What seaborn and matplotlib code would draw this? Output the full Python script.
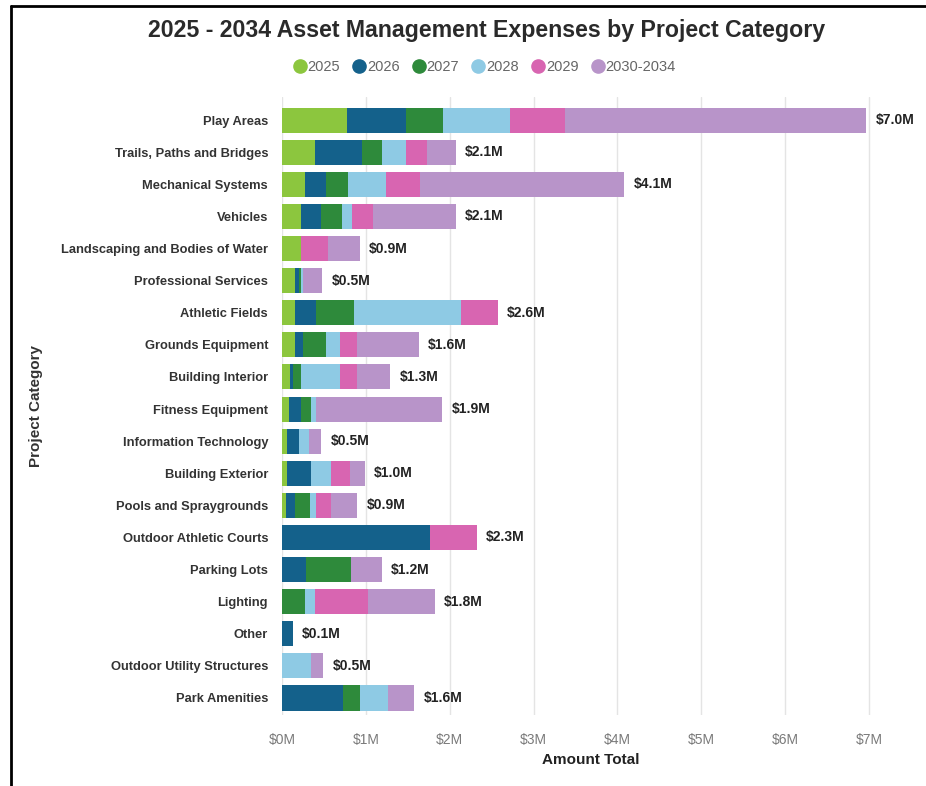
import matplotlib
matplotlib.use("Agg")
import matplotlib.pyplot as plt
from matplotlib.lines import Line2D
import numpy as np
import pandas as pd
import seaborn as sns

categories = [
    "Play Areas", "Trails, Paths and Bridges", "Mechanical Systems", "Vehicles",
    "Landscaping and Bodies of Water", "Professional Services", "Athletic Fields",
    "Grounds Equipment", "Building Interior", "Fitness Equipment",
    "Information Technology", "Building Exterior", "Pools and Spraygrounds",
    "Outdoor Athletic Courts", "Parking Lots", "Lighting", "Other",
    "Outdoor Utility Structures", "Park Amenities",
]

# Spending per category, $M
y2025 = [0.78, 0.39, 0.27, 0.23, 0.23, 0.16, 0.16, 0.15, 0.09, 0.08, 0.06, 0.06, 0.05, 0.00, 0.00, 0.00, 0.00, 0.00, 0.00]
y2026 = [0.70, 0.56, 0.26, 0.24, 0.00, 0.04, 0.24, 0.10, 0.04, 0.15, 0.14, 0.29, 0.10, 1.76, 0.29, 0.00, 0.13, 0.00, 0.73]
y2027 = [0.44, 0.24, 0.26, 0.25, 0.00, 0.03, 0.46, 0.27, 0.10, 0.12, 0.00, 0.00, 0.18, 0.00, 0.53, 0.27, 0.00, 0.00, 0.20]
y2028 = [0.80, 0.29, 0.45, 0.12, 0.00, 0.02, 1.28, 0.17, 0.46, 0.06, 0.12, 0.24, 0.08, 0.00, 0.00, 0.12, 0.00, 0.35, 0.34]
y2029 = [0.66, 0.25, 0.40, 0.25, 0.32, 0.00, 0.43, 0.21, 0.21, 0.00, 0.00, 0.22, 0.18, 0.56, 0.00, 0.64, 0.00, 0.00, 0.00]
y2030_2034 = [3.59, 0.34, 2.44, 0.98, 0.38, 0.23, 0.00, 0.73, 0.39, 1.50, 0.15, 0.18, 0.31, 0.00, 0.37, 0.79, 0.00, 0.14, 0.31]

series_names = ["2025", "2026", "2027", "2028", "2029", "2030-2034"]
series_colors = ["#8cc63e", "#14618b", "#2e8a3b", "#8ecae4", "#d865b1", "#b894c9"]
xtick_values = [0, 1, 2, 3, 4, 5, 6, 7]
xtick_labels = ["$0M", "$1M", "$2M", "$3M", "$4M", "$5M", "$6M", "$7M"]

df = pd.DataFrame({"Category": categories})
series_values = [y2025, y2026, y2027, y2028, y2029, y2030_2034]
for name, vals in zip(series_names, series_values):
    df[name] = vals
# running totals so each segment starts where the previous one ends
cum = df[series_names].cumsum(axis=1)
for name in series_names:
    df["cum_" + name] = cum[name]
df["Total"] = cum[series_names[-1]]

sns.set_theme(style="white")
plt.rcParams["font.family"] = ["Liberation Sans", "DejaVu Sans"]

W, H = 926, 786
fig = plt.figure(figsize=(W / 100, H / 100), dpi=100)
ax_left, ax_right, ax_top, ax_bottom = 282, 900, 97, 715
ax = fig.add_axes([ax_left / W, 1 - ax_bottom / H, (ax_right - ax_left) / W, (ax_bottom - ax_top) / H])

# draw running totals from the widest down so earlier years sit on top
for name, color in reversed(list(zip(series_names, series_colors))):
    sns.barplot(data=df, x="cum_" + name, y="Category", color=color, orient="h",
                width=0.78, saturation=1, errorbar=None, linewidth=0, ax=ax, zorder=3)

for i, total in enumerate(df["Total"]):
    ax.text(total + 0.11, i, f"${total:.1f}M", va="center", ha="left",
            fontsize=10, fontweight="bold", color="#222222", zorder=4)

x_max = 7 * (ax_right - ax_left) / (869 - ax_left)
ax.set_xlim(0, x_max)
ax.set_ylim(len(categories) - 0.47, -0.72)
ax.set_xticks(xtick_values)
ax.set_xticklabels(xtick_labels)
ax.grid(axis="x", color="#e4e4e4", linewidth=1, zorder=0)
ax.grid(axis="y", visible=False)
for s in ax.spines.values():
    s.set_visible(False)
ax.tick_params(axis="x", length=0, pad=13, labelsize=10, labelcolor="#7a7a7a")
ax.tick_params(axis="y", length=0, pad=10, labelsize=9.3, labelcolor="#333333")
for lab in ax.get_yticklabels():
    lab.set_fontweight("bold")
ax.set_xlabel("Amount Total", fontsize=11, fontweight="bold", color="#222222", labelpad=4)
ax.set_ylabel("")
fig.text(36 / W, 1 - 406 / H, "Project Category", rotation=90, ha="center", va="center",
         fontsize=11, fontweight="bold", color="#333333")

fig.text(487 / W, 1 - 30 / H, "2025 - 2034 Asset Management Expenses by Project Category",
         ha="center", va="center", fontsize=16.7, fontweight="bold", color="#2a2a2a")

handles = [Line2D([0], [0], marker="o", linestyle="", markersize=9.5,
                  markerfacecolor=c, markeredgecolor=c) for c in series_colors]
fig.legend(handles, series_names, loc="center", bbox_to_anchor=(484 / W, 1 - 67 / H),
           ncol=6, frameon=False, fontsize=10.5, labelcolor="#666666",
           handletextpad=0.05, columnspacing=0.8, handlelength=1.0)

# frame lines along the top and left edge
fig.add_artist(Line2D([10.5 / W, 1], [1 - 5.5 / H, 1 - 5.5 / H], color="black", linewidth=2,
                      transform=fig.transFigure))
fig.add_artist(Line2D([10.5 / W, 10.5 / W], [0, 1 - 5.5 / H], color="black", linewidth=2,
                      transform=fig.transFigure))

fig.savefig("out.png", dpi=100, facecolor="white")
